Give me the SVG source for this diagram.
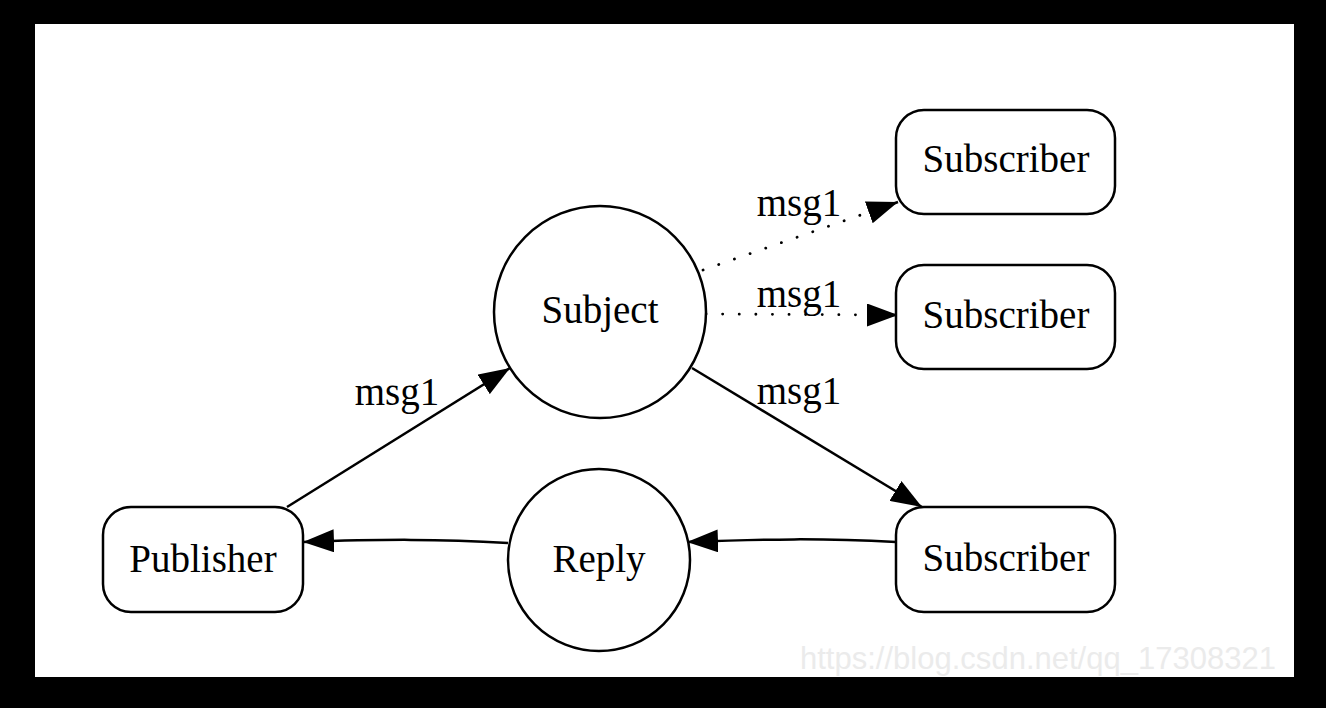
<svg xmlns="http://www.w3.org/2000/svg" width="1326" height="708" viewBox="0 0 1326 708">
<style>
.node{fill:#fff;stroke:#000;stroke-width:2.5}
.lbl{font-family:"Liberation Serif","Times New Roman",serif;font-size:39px;fill:#000;text-anchor:middle}
.edge{fill:none;stroke:#000;stroke-width:2.5}
.dot{fill:none;stroke:#000;stroke-width:2.8;stroke-linecap:round;stroke-dasharray:0.1 16.5}
.wm{font-family:"Liberation Sans",Arial,sans-serif;font-size:31.5px;fill:#ebebeb}
</style>
<defs>
<marker id="ah" viewBox="0 0 31 23" refX="31" refY="11.5" markerWidth="31" markerHeight="23" markerUnits="userSpaceOnUse" orient="auto">
<path d="M0,0 L31,11.5 L0,23 z" fill="#000"/>
</marker>
</defs>
<rect x="0" y="0" width="1326" height="708" fill="#000"/>
<rect x="35" y="24" width="1259" height="653" fill="#fff"/>
<g id="connectors">
<path class="edge" d="M287,507 L510,368" marker-end="url(#ah)"/>
<path class="dot" d="M703,270 L898,202"/>
<path class="edge" d="M870,212 L898,202" stroke="none" marker-end="url(#ah)"/>
<path class="dot" d="M706,314 L898,315"/>
<path class="edge" d="M870,315 L898,315" stroke="none" marker-end="url(#ah)"/>
<path class="edge" d="M692,368 L922,507" marker-end="url(#ah)"/>
<path class="edge" d="M896,542 C820,538 770,539 687,542" marker-end="url(#ah)"/>
<path class="edge" d="M508,543 C440,539 385,539 303,542" marker-end="url(#ah)"/>
<text class="lbl" x="397" y="405">msg1</text>
<text class="lbl" x="799" y="216">msg1</text>
<text class="lbl" x="799" y="307">msg1</text>
<text class="lbl" x="799" y="404">msg1</text>
</g>
<g id="subject">
<circle class="node" cx="600" cy="312" r="106"/>
<text class="lbl" x="600" y="323">Subject</text>
</g>
<g id="reply">
<circle class="node" cx="599" cy="560" r="91"/>
<text class="lbl" x="599" y="572">Reply</text>
</g>
<g id="publisher">
<rect class="node" x="103" y="507" width="200" height="105" rx="28"/>
<text class="lbl" x="203" y="572">Publisher</text>
</g>
<g id="subscriber1">
<rect class="node" x="896" y="110" width="219" height="104" rx="28"/>
<text class="lbl" x="1006" y="172">Subscriber</text>
</g>
<g id="subscriber2">
<rect class="node" x="896" y="265" width="219" height="104" rx="28"/>
<text class="lbl" x="1006" y="328">Subscriber</text>
</g>
<g id="subscriber3">
<rect class="node" x="896" y="507" width="219" height="105" rx="28"/>
<text class="lbl" x="1006" y="571">Subscriber</text>
</g>
<text class="wm" x="800" y="669" textLength="476" lengthAdjust="spacingAndGlyphs">https://blog.csdn.net/qq_17308321</text>
</svg>
